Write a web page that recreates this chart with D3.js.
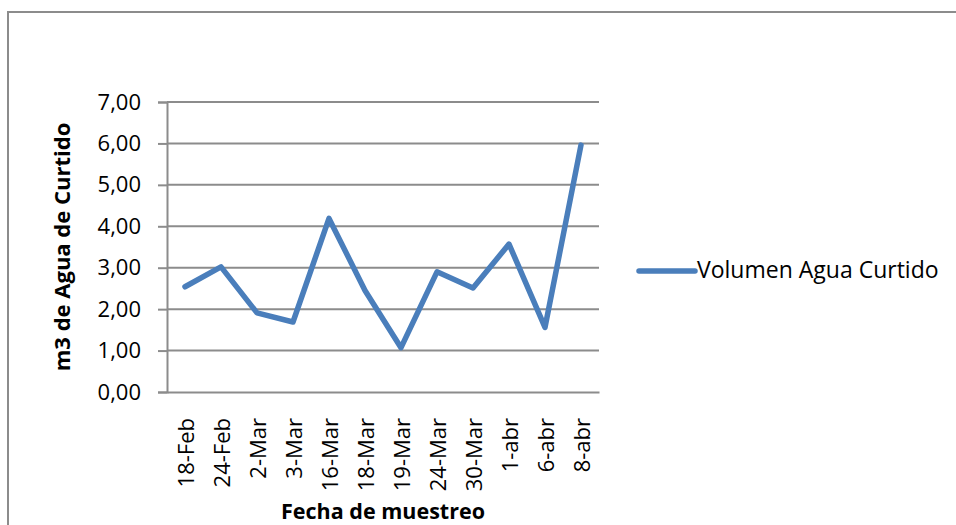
<!DOCTYPE html>
<html>
<head>
<meta charset="utf-8">
<script src="https://cdn.jsdelivr.net/npm/d3@7"></script>
<style>
  body { margin: 0; background: #fff; }
  svg { display: block; font-family: "Open Sans", sans-serif; }
</style>
</head>
<body>
<div id="chart"></div>
<script>
// Fecha de muestreo vs volumen de agua de curtido
const fechas = ["18-Feb", "24-Feb", "2-Mar", "3-Mar", "16-Mar", "18-Mar", "19-Mar", "24-Mar", "30-Mar", "1-abr", "6-abr", "8-abr"];
const volumen = [2.54, 3.02, 1.91, 1.69, 4.19, 2.45, 1.07, 2.90, 2.51, 3.57, 1.56, 5.96];
const yTicks = [0, 1, 2, 3, 4, 5, 6, 7];
const serieNombre = "Volumen Agua Curtido";

const width = 956;
const height = 525;
const margin = { top: 102, right: 357, bottom: 133, left: 167 };
const lineColor = "#4a7ebb";
const gridColor = "#8c8c8c";

const svg = d3.select("#chart")
    .append("svg")
    .attr("width", width)
    .attr("height", height);

// outer chart border (cut off at right and bottom)
svg.append("rect")
    .attr("x", 8)
    .attr("y", 12)
    .attr("width", width + 20)
    .attr("height", height + 20)
    .attr("fill", "none")
    .attr("stroke", gridColor)
    .attr("stroke-width", 2);

const x = d3.scaleBand()
    .domain(fechas)
    .range([margin.left, width - margin.right]);

const y = d3.scaleLinear()
    .domain([0, 7])
    .range([height - margin.bottom, margin.top]);

// horizontal gridlines
svg.append("g")
    .selectAll("line")
    .data(yTicks.filter(d => d > 0))
    .join("line")
    .attr("x1", margin.left)
    .attr("x2", width - margin.right)
    .attr("y1", d => y(d))
    .attr("y2", d => y(d))
    .attr("stroke", gridColor)
    .attr("stroke-width", 2);

// y axis
const yAxis = svg.append("g")
    .attr("transform", `translate(${margin.left},0)`)
    .call(d3.axisLeft(y)
        .tickValues(yTicks)
        .tickSize(9)
        .tickPadding(17)
        .tickFormat(d => d3.format(".2f")(d).replace(".", ",")));
yAxis.select(".domain").attr("stroke", gridColor).attr("stroke-width", 2);
yAxis.selectAll(".tick line").attr("stroke", gridColor).attr("stroke-width", 2);
yAxis.selectAll(".tick text")
    .attr("fill", "#000")
    .style("font-size", "22px")
    .style("font-family", "'Open Sans', sans-serif");

// x axis
const xAxis = svg.append("g")
    .attr("transform", `translate(0,${height - margin.bottom})`)
    .call(d3.axisBottom(x).tickSize(0).tickSizeOuter(0));
xAxis.select(".domain").attr("stroke", gridColor).attr("stroke-width", 2);
xAxis.selectAll(".tick text")
    .attr("fill", "#000")
    .style("font-size", "22px")
    .style("font-family", "'Open Sans', sans-serif")
    .attr("text-anchor", "end")
    .attr("dominant-baseline", "central")
    .attr("transform", "rotate(-90)")
    .attr("x", -26)
    .attr("y", 0)
    .attr("dy", null);

// line series
const line = d3.line()
    .x((d, i) => x(fechas[i]) + x.bandwidth() / 2)
    .y(d => y(d));

svg.append("path")
    .datum(volumen)
    .attr("d", line)
    .attr("fill", "none")
    .attr("stroke", lineColor)
    .attr("stroke-width", 5.5)
    .attr("stroke-linejoin", "round")
    .attr("stroke-linecap", "round");

// axis titles
svg.append("text")
    .attr("x", (margin.left + width - margin.right) / 2)
    .attr("y", 519)
    .attr("text-anchor", "middle")
    .style("font-size", "21.5px")
    .style("font-weight", "bold")
    .text("Fecha de muestreo");

svg.append("text")
    .attr("transform", `translate(70,${(y(0) + y(7)) / 2}) rotate(-90)`)
    .attr("text-anchor", "middle")
    .style("font-size", "22px")
    .style("font-weight", "bold")
    .text("m3 de Agua de Curtido");

// legend
const legend = svg.append("g").attr("transform", "translate(639,271)");
legend.append("line")
    .attr("x1", 0)
    .attr("x2", 56)
    .attr("stroke", lineColor)
    .attr("stroke-width", 5.5)
    .attr("stroke-linecap", "round");
legend.append("text")
    .attr("x", 58)
    .attr("y", -2)
    .attr("dominant-baseline", "central")
    .style("font-size", "23px")
    .text(serieNombre);
</script>
</body>
</html>
